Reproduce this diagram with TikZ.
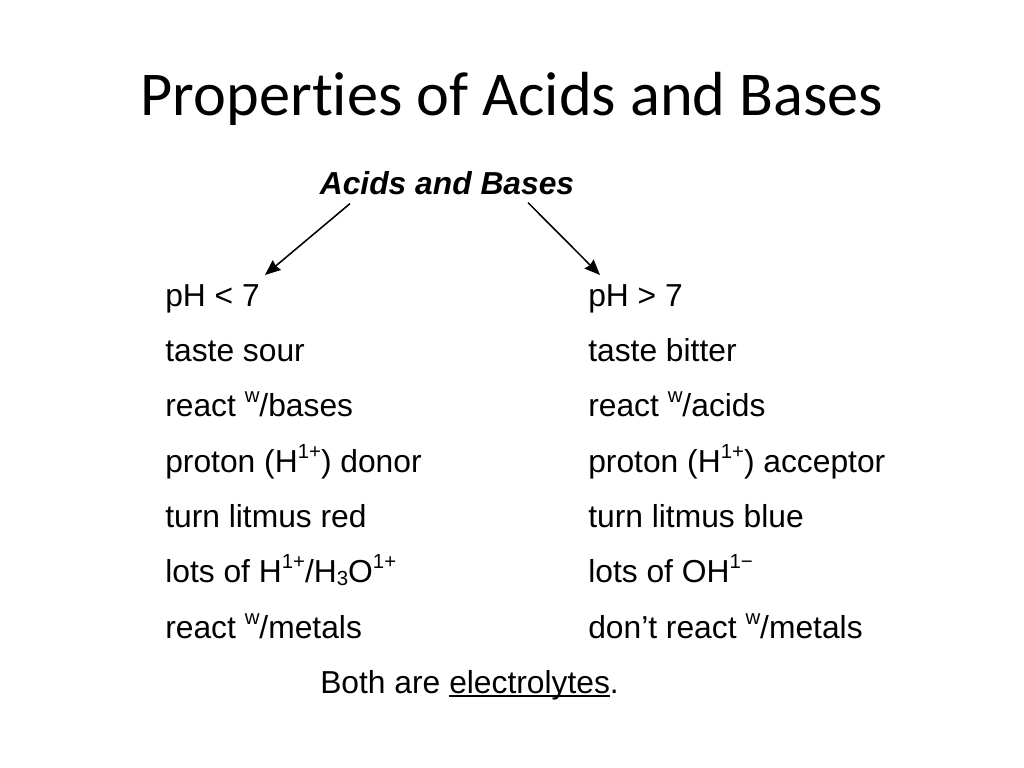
\documentclass[tikz,border=0pt]{standalone}
\usepackage{fontspec}
\setmainfont{Liberation Sans}
\newfontfamily\titlefont[Ligatures=NoCommon]{Carlito}
\usetikzlibrary{arrows.meta}

\newcommand{\ulelec}[1]{\setbox0\hbox{#1}\rlap{\rule[-2.8pt]{\wd0}{1.4pt}}\box0}
\newcommand{\sups}[1]{\raisebox{0.42em}{\fontsize{14.5}{15}\selectfont #1}}
\newcommand{\subs}[1]{\raisebox{-0.12em}{\fontsize{14.5}{15}\selectfont #1}}
\newcommand{\wsup}{\sups{w}}

\tikzset{
  prop/.style={anchor=base west, inner sep=0pt, font=\fontsize{22.6}{27}\selectfont},
  tip/.style={-{Stealth[length=11pt,width=9pt,inset=1pt]}, line width=1.1pt}
}

\begin{document}
\begin{tikzpicture}[x=0.025cm, y=-0.025cm]
  \useasboundingbox (0,0) rectangle (1024,768);
  \node[anchor=base, inner sep=0pt, font=\titlefont\fontsize{44.3}{50}\selectfont] (title) at (512,116) {Properties of Acids and Bases};
  \node[anchor=base, inner sep=0pt, font=\bfseries\itshape\fontsize{22.6}{27}\selectfont] (head) at (447,194) {Acids and Bases};

  % acids
  \node[prop] (a1) at (165,306) {pH < 7};
  \node[prop] (a2) at (165,361) {taste sour};
  \node[prop] (a3) at (165,416) {react \wsup/bases};
  \node[prop] (a4) at (165,472) {proton (H\sups{1+}) donor};
  \node[prop] (a5) at (165,527) {turn litmus red};
  \node[prop] (a6) at (165,582) {lots of H\sups{1+}/H\subs{3}O\sups{1+}};
  \node[prop] (a7) at (165,638) {react \wsup/metals};

  % bases
  \node[prop] (b1) at (588,306) {pH > 7};
  \node[prop] (b2) at (588,361) {taste bitter};
  \node[prop] (b3) at (588,416) {react \wsup/acids};
  \node[prop] (b4) at (588,472) {proton (H\sups{1+}) acceptor};
  \node[prop] (b5) at (588,527) {turn litmus blue};
  \node[prop] (b6) at (588,582) {lots of OH\sups{1−}};
  \node[prop] (b7) at (588,638) {don’t react \wsup/metals};

  \node[prop] (both) at (320,693) {Both are \ulelec{electrolytes}.};

  \coordinate (atip) at (265,275);
  \coordinate (btip) at (600,275);
  \draw[tip] ([xshift=-97*0.025cm, yshift=-9*0.025cm]head.south) -- (atip);
  \draw[tip] ([xshift=81*0.025cm, yshift=-8*0.025cm]head.south) -- (btip);
\end{tikzpicture}
\end{document}
